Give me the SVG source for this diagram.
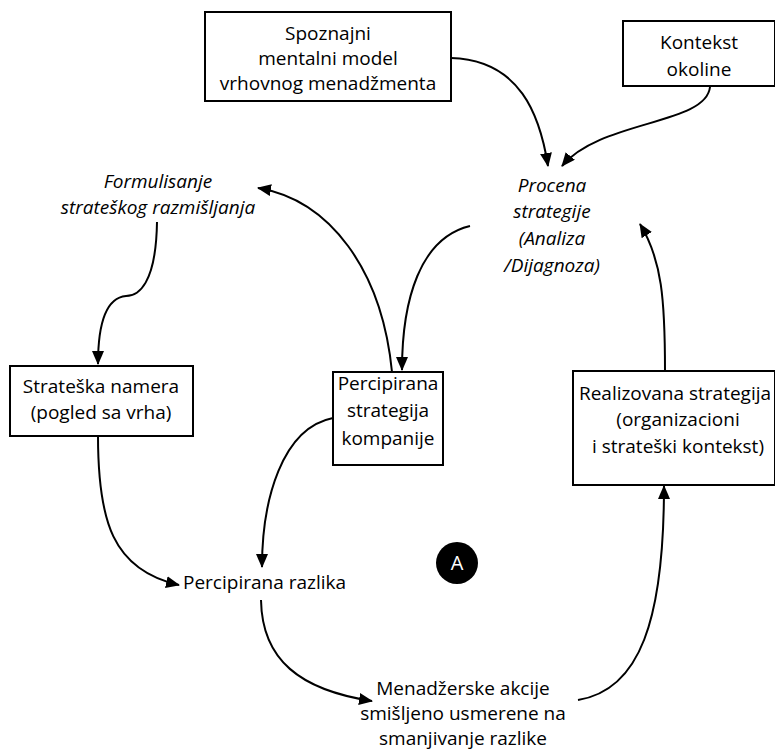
<svg xmlns="http://www.w3.org/2000/svg" width="775" height="752" viewBox="0 0 775 752">
<style>
.box{fill:#fff;stroke:#000;stroke-width:2}
.t{font-family:"Open Sans","Liberation Sans",sans-serif;font-size:19px;fill:#000;text-anchor:middle}
.i{font-style:italic}
.c{fill:none;stroke:#000;stroke-width:2;marker-end:url(#ah)}
</style>
<defs>
<marker id="ah" markerUnits="userSpaceOnUse" markerWidth="14" markerHeight="12" viewBox="0 0 14 12" refX="13" refY="6" orient="auto">
<path d="M0,0 L14,6 L0,12 z" fill="#000"/>
</marker>
</defs>
<rect width="775" height="752" fill="#fff"/>
<g id="connectors">
<path class="c" d="M451,58 C520,60 540,115 548,166"/>
<path class="c" d="M710,87 C706,125 600,120 562,166"/>
<path class="c" d="M470,226 C420,238 402,300 402,370"/>
<path class="c" d="M392,372 C382,270 330,200 258,188"/>
<path class="c" d="M157,222 C156,285 138,296 126,296 C104,298 98,330 98,364"/>
<path class="c" d="M98,436 C98,520 112,570 179,585"/>
<path class="c" d="M333,418 C282,428 262,500 262,567"/>
<path class="c" d="M261,600 C262,660 300,690 372,701"/>
<path class="c" d="M578,700 C640,690 664,620 664,486"/>
<path class="c" d="M665,371 C665,300 662,260 640,224"/>
</g>
<g id="n1"><rect class="box" x="205" y="12" width="246" height="89"/>
<text class="t" x="328" y="40">Spoznajni</text><text class="t" x="328" y="65">mentalni model</text><text class="t" x="328" y="90">vrhovnog menadžmenta</text></g>
<g id="n2"><rect class="box" x="623" y="21" width="152" height="65"/>
<text class="t" x="699" y="49">Kontekst</text><text class="t" x="699" y="76">okoline</text></g>
<g id="n3"><text class="t i" x="552" y="192">Procena</text><text class="t i" x="552" y="218">strategije</text><text class="t i" x="552" y="245">(Analiza</text><text class="t i" x="552" y="272">/Dijagnoza)</text></g>
<g id="n4"><text class="t i" x="158" y="188">Formulisanje</text><text class="t i" x="158" y="214">strateškog razmišljanja</text></g>
<g id="n5"><rect class="box" x="10" y="366" width="183" height="70"/>
<text class="t" x="101" y="393">Strateška namera</text><text class="t" x="101" y="419">(pogled sa vrha)</text></g>
<g id="n6"><rect class="box" x="333" y="372" width="110" height="93"/>
<text class="t" x="388" y="390">Percipirana</text><text class="t" x="388" y="417">strategija</text><text class="t" x="388" y="445">kompanije</text></g>
<g id="n7"><rect class="box" x="573" y="371" width="202" height="114"/>
<text class="t" x="675" y="400">Realizovana strategija</text><text class="t" x="678" y="426">(organizacioni</text><text class="t" x="678" y="453">i strateški kontekst)</text></g>
<g id="n8"><text class="t" x="183" y="589" style="text-anchor:start">Percipirana razlika</text></g>
<g id="n9"><text class="t" x="463" y="695">Menadžerske akcije</text><text class="t" x="463" y="720">smišljeno usmerene na</text><text class="t" x="463" y="745">smanjivanje razlike</text></g>
<g id="nA"><circle cx="457" cy="563" r="21" fill="#000"/><text x="457" y="570" style="font-family:'Open Sans','Liberation Sans',sans-serif;font-size:20px;fill:#fff;text-anchor:middle">A</text></g>
</svg>
